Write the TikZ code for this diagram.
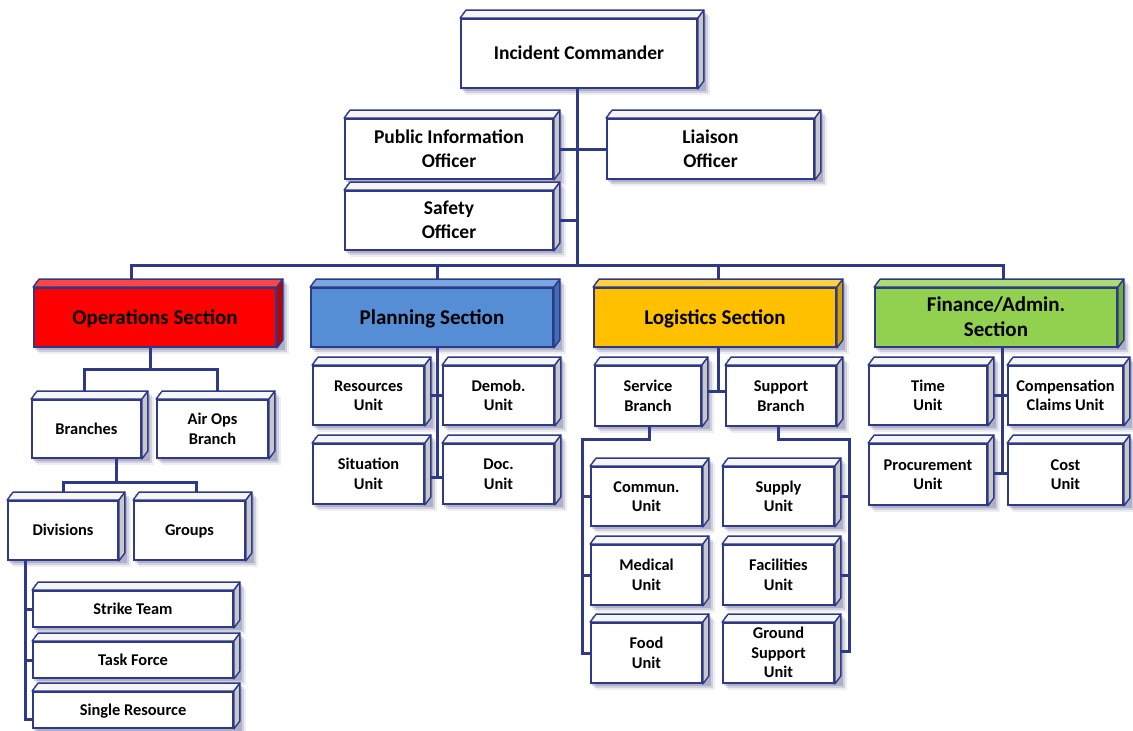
\documentclass[tikz,border=0pt]{standalone}
\usepackage{fontspec}
\setmainfont{Carlito}
\usetikzlibrary{calc}

\definecolor{navy}{HTML}{2E3A87}
\definecolor{plainfront}{HTML}{FFFFFF}
\definecolor{plaintop}{HTML}{F6F6F6}
\definecolor{plainside}{HTML}{C8C8C8}
\definecolor{opsfront}{HTML}{FF0000}
\definecolor{opstop}{HTML}{FF4545}
\definecolor{opsside}{HTML}{C00000}
\definecolor{planfront}{HTML}{558ED5}
\definecolor{plantop}{HTML}{7AA8E2}
\definecolor{planside}{HTML}{3F6FB6}
\definecolor{logfront}{HTML}{FFC000}
\definecolor{logtop}{HTML}{FFD040}
\definecolor{logside}{HTML}{D49F00}
\definecolor{finfront}{HTML}{92D050}
\definecolor{fintop}{HTML}{AADC72}
\definecolor{finside}{HTML}{73AD3A}

\newcommand\bigfont{\bfseries\fontsize{19.5}{24}\selectfont}
\newcommand\secfont{\bfseries\fontsize{21}{23}\selectfont}
\newcommand\unitfont{\bfseries\fontsize{16.4}{19.5}\selectfont}
% balanced strut: keeps capitals centred in the box
\newcommand\capstrut{\rule[-0.25em]{0pt}{1.15em}}

\pgfdeclarelayer{shadow}
\pgfdeclarelayer{lines}
\pgfsetlayers{shadow,lines,main}

\tikzset{
  cubefront/.style={draw=navy, line width=1.8pt, inner sep=0pt, align=center, text=black},
  cubeedge/.style={draw=navy, line width=1.4pt, line join=round},
  link/.style={draw=navy, line width=3pt, line join=miter, line cap=butt},
}

% 3D box: palette, name, centre, width, height, font, text
\newcommand\icsbox[7][plain]{%
  \node[cubefront, fill=#1front, minimum width=#4pt, minimum height=#5pt, font=#6] (#2) at #3 {\capstrut#7\capstrut};
  \draw[cubeedge, fill=#1top] (#2.north west) -- ++(6,-8) -- ([shift={(6,-8)}]#2.north east) -- (#2.north east) -- cycle;
  \draw[cubeedge, fill=#1side] (#2.north east) -- ++(6,-8) -- ([shift={(6,-8)}]#2.south east) -- (#2.south east) -- cycle;
  \begin{pgfonlayer}{shadow}
    \foreach \s/\o in {2/0.16,4/0.12,6/0.07}{
      \fill[black!70!blue, opacity=\o]
        ([shift={(\s,\s-8)}]#2.north west) rectangle ([shift={(6+\s,\s)}]#2.south east);
    }
  \end{pgfonlayer}
}

\begin{document}
\begin{tikzpicture}[x=1pt,y=-1pt]
\useasboundingbox (0,0) rectangle (1133,731);

% command staff
\icsbox{IC}{(579,53.5)}{236}{69}{\bigfont}{Incident Commander}
\icsbox{PIO}{(449,149)}{208}{60}{\bigfont}{Public Information\\Officer}
\icsbox{Safety}{(449,220.5)}{208}{59}{\bigfont}{Safety\\Officer}
\icsbox{Liaison}{(710.5,149)}{207}{60}{\bigfont}{Liaison\\Officer}

% sections
\icsbox[ops]{Ops}{(155,317.5)}{242}{59}{\secfont}{Operations Section}
\icsbox[plan]{Planning}{(432,317.5)}{242}{59}{\secfont}{Planning Section}
\icsbox[log]{Logistics}{(715,317.5)}{242}{59}{\secfont}{Logistics Section}
\icsbox[fin]{Finance}{(996,317.5)}{242}{59}{\secfont}{Finance/Admin.\\Section}

% operations
\icsbox{Branches}{(86.5,429)}{109}{58}{\unitfont}{Branches}
\icsbox{AirOps}{(212.5,429)}{111}{58}{\unitfont}{Air Ops\\Branch}
\icsbox{Divisions}{(63,530.5)}{110}{59}{\unitfont}{Divisions}
\icsbox{Groups}{(189.5,530.5)}{111}{59}{\unitfont}{Groups}
\icsbox{Strike}{(133,609)}{200}{36}{\unitfont}{Strike Team}
\icsbox{Task}{(133,660)}{200}{36}{\unitfont}{Task Force}
\icsbox{Single}{(133,710)}{200}{36}{\unitfont}{Single Resource}

% planning
\icsbox{Resources}{(368.5,395.5)}{111}{59}{\unitfont}{Resources\\Unit}
\icsbox{Demob}{(498.5,395.5)}{111}{59}{\unitfont}{Demob.\\Unit}
\icsbox{Situation}{(368.5,474)}{111}{60}{\unitfont}{Situation\\Unit}
\icsbox{Doc}{(498.5,474)}{111}{60}{\unitfont}{Doc.\\Unit}

% logistics
\icsbox{Service}{(648,396)}{106}{60}{\unitfont}{Service\\Branch}
\icsbox{Support}{(781,396)}{110}{60}{\unitfont}{Support\\Branch}
\icsbox{Commun}{(646.5,496.5)}{111}{59}{\unitfont}{Commun.\\Unit}
\icsbox{Medical}{(646.5,575)}{111}{60}{\unitfont}{Medical\\Unit}
\icsbox{Food}{(646.5,653)}{111}{60}{\unitfont}{Food\\Unit}
\icsbox{Supply}{(778.5,496.5)}{111}{59}{\unitfont}{Supply\\Unit}
\icsbox{Facilities}{(778.5,575)}{111}{60}{\unitfont}{Facilities\\Unit}
\icsbox{Ground}{(778.5,653)}{111}{60}{\unitfont}{Ground\\Support\\Unit}

% finance
\icsbox{Time}{(928,395.5)}{118}{59}{\unitfont}{Time\\Unit}
\icsbox{Comp}{(1065.5,395.5)}{115}{59}{\unitfont}{Compensation\\Claims Unit}
\icsbox{Proc}{(928,474.5)}{118}{61}{\unitfont}{Procurement\\Unit}
\icsbox{Cost}{(1065.5,474.5)}{115}{61}{\unitfont}{Cost\\Unit}

% junction points of the connectors
\coordinate (trunk) at (577,267);
\coordinate (busL) at (131,265);
\coordinate (busP) at (437,265);
\coordinate (busG) at (718,265);
\coordinate (busR) at (1003,265);
\coordinate (opsJ) at (150,369);
\coordinate (ob1) at (84,369);
\coordinate (ob2) at (217,369);
\coordinate (brJ) at (116,482);
\coordinate (db1) at (63,482);
\coordinate (db2) at (196,482);
\coordinate (dv) at (25,719);
\coordinate (pv) at (437,477);
\coordinate (lv) at (718,391);
\coordinate (sv1) at (649,439);
\coordinate (sv2) at (582,439);
\coordinate (sv3) at (582,653);
\coordinate (su1) at (778,439);
\coordinate (su2) at (849,439);
\coordinate (su3) at (849,651);
\coordinate (fv) at (1002,473);

\begin{pgfonlayer}{lines}
  % command staff
  \draw[link] (trunk |- IC.south) -- (trunk);
  \draw[link] ([xshift=6pt]PIO.east) -- (Liaison.west);
  \draw[link] ([xshift=6pt]Safety.east) -- (trunk |- Safety.east);
  % section bus
  \draw[link] ([yshift=8pt]busL |- Ops.north) -- (busL) -- (busR) -- ([yshift=8pt]busR |- Finance.north);
  \draw[link] (busP) -- ([yshift=8pt]busP |- Planning.north);
  \draw[link] (busG) -- ([yshift=8pt]busG |- Logistics.north);
  % operations
  \draw[link] (opsJ |- Ops.south) -- (opsJ);
  \draw[link] ([yshift=8pt]ob1 |- Branches.north) -- (ob1) -- (ob2) -- ([yshift=8pt]ob2 |- AirOps.north);
  \draw[link] (brJ |- Branches.south) -- (brJ);
  \draw[link] ([yshift=8pt]db1 |- Divisions.north) -- (db1) -- (db2) -- ([yshift=8pt]db2 |- Groups.north);
  \draw[link] (dv |- Divisions.south) -- (dv) -- (Single.west |- dv);
  \draw[link] (dv |- Strike.west) -- (Strike.west);
  \draw[link] (dv |- Task.west) -- (Task.west);
  % planning
  \draw[link] (pv |- Planning.south) -- (pv);
  \draw[link] ([xshift=6pt]Resources.east) -- (Demob.west);
  \draw[link] ([xshift=6pt]Situation.east |- pv) -- (Doc.west |- pv);
  % logistics
  \draw[link] (lv |- Logistics.south) -- (lv);
  \draw[link] ([xshift=6pt]Service.east |- lv) -- (Support.west |- lv);
  \draw[link] (sv1 |- Service.south) -- (sv1) -- (sv2) -- (sv3) -- (Food.west |- sv3);
  \draw[link] (sv2 |- Commun.west) -- (Commun.west);
  \draw[link] (sv2 |- Medical.west) -- (Medical.west);
  \draw[link] (su1 |- Support.south) -- (su1) -- (su2) -- (su3) -- ([xshift=6pt]Ground.east |- su3);
  \draw[link] ([xshift=6pt]Supply.east) -- (su2 |- Supply.east);
  \draw[link] ([xshift=6pt]Facilities.east) -- (su2 |- Facilities.east);
  % finance
  \draw[link] (fv |- Finance.south) -- (fv);
  \draw[link] ([xshift=6pt]Time.east) -- (Comp.west);
  \draw[link] ([xshift=6pt]Proc.east |- fv) -- (Cost.west |- fv);
\end{pgfonlayer}
\end{tikzpicture}
\end{document}
